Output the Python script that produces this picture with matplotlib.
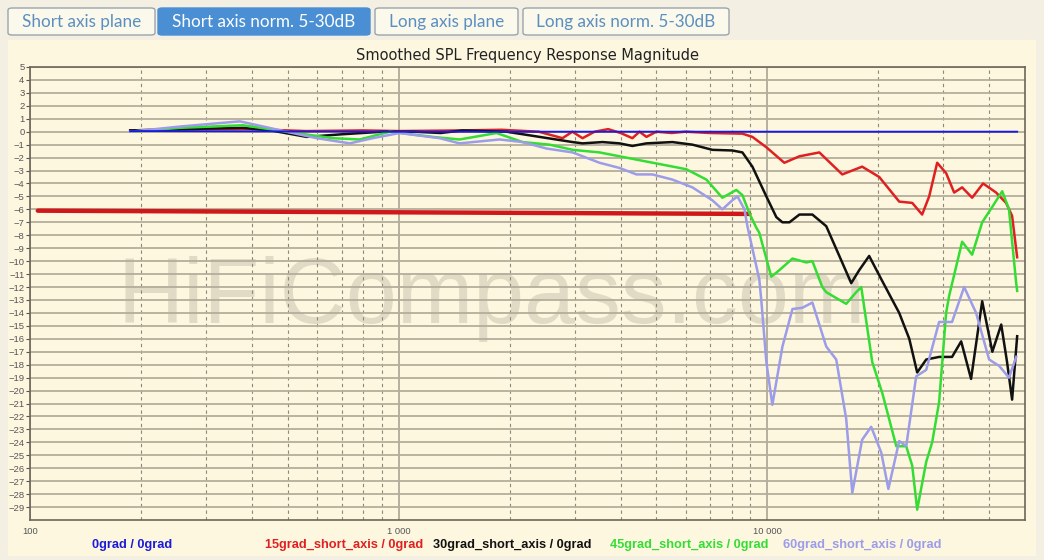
import matplotlib
matplotlib.use("Agg")
import matplotlib.pyplot as plt
from matplotlib.patches import FancyBboxPatch, Rectangle
from matplotlib.ticker import FixedLocator, NullFormatter

W, H = 1044, 560

# --- data (frequency in Hz, level in dB, normalised to 0grad) ---
f_0 = [187, 1000, 47600]
db_0 = [0.05, 0.0, 0.0]

f_15 = [187, 300, 400, 560, 800, 1000, 1490, 1900, 2400, 2782, 2960, 3153, 3400,
        3700, 4000, 4305, 4500, 4700, 5000, 5500, 6000, 7000, 8560, 9110, 9940,
        11120, 12220, 13840, 15970, 18080, 20120, 22790, 24720, 26300, 27480,
        28890, 30550, 32120, 33760, 35940, 38480, 41740, 44420, 46130, 47610]
db_15 = [0.1, 0.2, 0.2, 0.05, 0.1, 0.05, 0.1, 0.15, 0.0, -0.5, 0.0, -0.5, 0.0,
         0.2, -0.1, -0.5, 0.0, -0.4, 0.0, -0.1, 0.0, -0.1, -0.15, -0.4, -1.2,
         -2.4, -1.9, -1.6, -3.3, -2.7, -3.5, -5.4, -5.5, -6.4, -5.0,
         -2.4, -3.2, -4.7, -4.3, -5.1, -4.0, -4.7, -5.5, -6.5, -9.7]

f_30 = [187, 260, 378, 450, 563, 700, 905, 1100, 1300, 1490, 1963, 2411, 2963,
        3153, 3573, 3973, 4305, 4700, 5528, 6264, 7096, 8035, 8560, 9110, 9940,
        10580, 10990, 11480, 12220, 13250, 14450, 15680, 16890, 17750, 18890,
        20380, 21830, 22790, 24270, 25500, 26980, 29240, 31700, 33560, 35700,
        38270, 40770, 43100, 44700, 46130, 47610]
db_30 = [0.1, 0.2, 0.3, 0.1, -0.4, -0.2, 0.0, 0.0, -0.1, 0.1, 0.0, -0.4, -0.8,
         -0.9, -0.8, -0.9, -1.1, -0.9, -0.8, -1.0, -1.4, -1.45, -1.6, -2.7, -5.0,
         -6.6, -7.0, -7.0, -6.4, -6.4, -7.3, -9.6, -11.7, -10.7, -9.6,
         -11.4, -13.0, -14.0, -16.0, -18.6, -17.6, -17.4, -17.4, -16.2, -19.1,
         -13.1, -17.0, -14.9, -17.8, -20.7, -15.8]

f_45 = [187, 255, 378, 497, 663, 784, 946, 1237, 1463, 1843, 2168, 2566, 2963,
        3507, 3973, 4499, 5321, 6030, 6836, 7551, 8240, 8560, 8940, 9330, 9510,
        10250, 10780, 11700, 12760, 13250, 14100, 14450, 16370, 17420, 17980,
        19260, 20510, 22380, 23810, 24720, 25500, 26980, 28000, 29240, 30550,
        31120, 33760, 35940, 38270, 40770, 43370, 45240, 47320, 47610]
db_45 = [0.0, 0.3, 0.5, 0.0, -0.5, -0.6, 0.0, -0.4, -0.6, -0.1, -0.8, -1.0, -1.4,
         -1.6, -1.9, -2.2, -2.6, -2.9, -3.7, -5.1, -4.5, -4.9, -6.3, -7.4, -7.8,
         -11.2, -10.7, -9.8, -10.1, -10.0, -12.0, -12.4, -13.3, -12.4, -12.0,
         -17.8, -20.2, -24.3, -24.3, -25.8, -29.2, -25.5, -24.0, -20.9, -14.0,
         -12.7, -8.5, -9.5, -7.0, -5.8, -4.6, -6.0, -11.7, -12.3]

f_60 = [187, 255, 371, 497, 600, 737, 850, 1006, 1291, 1463, 1878, 2168, 2518,
        2963, 3507, 3973, 4416, 4877, 5528, 6264, 7096, 7551, 8035, 8300, 8670,
        8830, 9510, 9630, 9940, 10320, 10990, 11700, 12450, 13250, 14450, 15380,
        16370, 17000, 18080, 19130, 20380, 21300, 22790, 23810, 25340, 26980,
        29240, 31700, 34190, 36840, 39960, 42570, 45240, 47320]
db_60 = [0.0, 0.4, 0.8, 0.0, -0.5, -0.9, -0.5, -0.1, -0.5, -0.9, -0.6, -0.8, -1.3,
         -1.6, -2.4, -2.8, -3.3, -3.3, -3.7, -4.3, -5.3, -6.0, -5.3, -5.0, -6.0,
         -7.3, -11.4, -13.0, -17.8, -21.1, -16.6, -13.7, -13.6, -13.2, -16.6, -17.6,
         -22.2, -27.9, -23.8, -22.8, -24.8, -27.6, -23.9, -24.3, -18.9, -18.4,
         -14.7, -14.7, -12.0, -14.0, -17.6, -18.1, -19.0, -17.4]

# thick red marker line
f_mark = [105, 8940]
db_mark = [-6.1, -6.35]

series = [
    ("0grad / 0grad", f_0, db_0, "#1a1adc"),
    ("15grad_short_axis / 0grad", f_15, db_15, "#e02020"),
    ("30grad_short_axis / 0grad", f_30, db_30, "#111111"),
    ("45grad_short_axis / 0grad", f_45, db_45, "#33dd33"),
    ("60grad_short_axis / 0grad", f_60, db_60, "#9c9ce8"),
]
buttons = ["Short axis plane", "Short axis norm. 5-30dB",
           "Long axis plane", "Long axis norm. 5-30dB"]
y_ticks = list(range(-29, 6))
x_major = [100, 1000, 10000]
x_major_labels = ["100", "1 000", "10 000"]
x_minor = [m * d for d in (100, 1000, 10000) for m in range(2, 10)]

plt.rcParams["font.family"] = ["Liberation Sans", "DejaVu Sans"]

fig = plt.figure(figsize=(W / 100, H / 100), dpi=100)
fig.patch.set_facecolor("#f3efe2")


def fx(px):
    return px / W


def fy(py):
    return 1 - py / H


# cream panel
fig.patches.append(Rectangle((fx(8), fy(556)), fx(1036) - fx(8), fy(40) - fy(556),
                             transform=fig.transFigure, facecolor="#fdf7e0",
                             edgecolor="none", zorder=-2))

# buttons
btn_pos = [(8, 155), (158, 370), (375, 518), (523, 729)]
for i, (label, (x0, x1)) in enumerate(zip(buttons, btn_pos)):
    active = i == 1
    fig.patches.append(FancyBboxPatch(
        (fx(x0), fy(35)), fx(x1) - fx(x0), fy(8) - fy(35),
        boxstyle="round,pad=0,rounding_size=0.004", transform=fig.transFigure,
        facecolor="#4a8fd4" if active else "#fbf8ec",
        edgecolor="#4a8fd4" if active else "#9aa4ad", linewidth=1.0, zorder=-1))
    fig.text(fx((x0 + x1) / 2), fy(22), label, ha="center", va="center",
             fontsize=12.3, family=["Lato", "DejaVu Sans"],
             color="white" if active else "#5a8fc0")

ax = fig.add_axes([fx(30), fy(520), fx(1025) - fx(30), fy(67) - fy(520)])
ax.set_facecolor("#fdf7e0")
ax.set_xscale("log")
ax.set_xlim(100, 50000)
ax.set_ylim(-30, 5)

ax.yaxis.set_major_locator(FixedLocator(y_ticks))
ax.xaxis.set_major_locator(FixedLocator(x_major))
ax.xaxis.set_minor_locator(FixedLocator(x_minor))
ax.xaxis.set_minor_formatter(NullFormatter())
ax.set_xticklabels(x_major_labels)
ax.tick_params(axis="y", labelsize=6.8, colors="#555555", length=3, width=0.8,
               pad=1)
ax.tick_params(axis="x", which="both", length=0, labelsize=6.8,
               labelcolor="#555555", pad=5)

ax.grid(axis="y", color="#b3ad9b", linewidth=1.3)
ax.grid(axis="x", which="major", color="#a9a392", linewidth=1.2)
ax.grid(axis="x", which="minor", color="#8d8878", linewidth=0.8,
        linestyle=(0, (3, 3)))
ax.set_axisbelow(True)
for s in ax.spines.values():
    s.set_color("#6b6658")
    s.set_linewidth(1.2)

# watermark
ax.text(0.464, 0.435, "HiFiCompass.com", transform=ax.transAxes, ha="center",
        va="baseline", fontsize=66, color="#8a8470", alpha=0.24,
        family=["Liberation Sans"], zorder=0.4)

ax.plot(f_mark, db_mark, color="#d0181a", linewidth=3.2, solid_capstyle="round",
        zorder=3)
for name, f, db, c in series:
    ax.plot(f, db, color=c, linewidth=1.8 if name != "0grad / 0grad" else 1.4,
            zorder=4 if name.startswith("0grad") else 3)

ax.set_title("Smoothed SPL Frequency Response Magnitude", fontsize=10.5,
             family=["DejaVu Sans"], color="#222222", pad=5)

leg_x = [92, 265, 433, 610, 783]
for (name, f, db, c), x in zip(series, leg_x):
    fig.text(fx(x), fy(545), name, ha="left", va="center", fontsize=9.2,
             fontweight="bold", color=c)

fig.savefig("out.png", dpi=100, facecolor=fig.get_facecolor())
